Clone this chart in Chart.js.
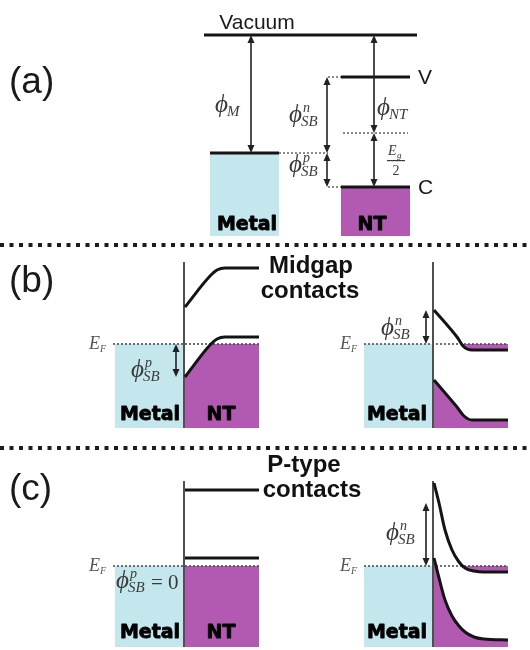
<!DOCTYPE html>
<html>
<head>
<meta charset="utf-8">
<script src="https://cdn.jsdelivr.net/npm/chart.js@4.4.0/dist/chart.umd.min.js"></script>
<style>
  html, body { margin: 0; padding: 0; background: #fff; }
  canvas { display: block; }
</style>
</head>
<body>
<canvas id="bands" width="530" height="650"></canvas>
<script>
// (a) isolated levels, rows counted down from the top
const vacuumLevel = 35;
const metalFermi = 153;
const ntUpperLevel = 77;   // "V"
const ntMidgap = 133;
const ntLowerLevel = 187;  // "C"

// (b), (c): band edges above E_F against distance from the interface
const midgapNtDist = [0, 25, 32, 40, 74];
const midgapNtCB = [37, 68, 74, 76, 76];
const midgapNtVB = [-33, -1, 5, 7, 7];
const midgapMetalDist = [0, 23, 30, 38, 74];
const midgapMetalCB = [34, 7, -3, -6, -6];
const midgapMetalVB = [-36, -63, -72, -76, -76];

const ptypeNtDist = [0, 74];
const ptypeNtCB = [76, 76];
const ptypeNtVB = [8, 8];
const ptypeMetalDist = [0, 5, 11, 18, 25, 31, 40, 50, 74];
const ptypeMetalCB = [83, 63, 36, 16, 4, -2, -5, -6, -6];
const ptypeMetalVB = [8, -12, -34, -50, -60, -66, -71, -73, -74];

// layout of the two lower rows
const fermiB = 344, fermiC = 566;
const bottomB = 428, bottomC = 647;
const topB = 262, topC = 481;
const leftIf = 184, rightIf = 433;
const leftMetalX = 115, rightMetalX = 364;
const bandLen = 74;

const CYAN = '#c3e7ec';
const MAGENTA = '#b25ab2';
const INK = '#141414';
const CLEAR = 'rgba(0,0,0,0)';

function band(ix, dists, energies, ef) {
  return dists.map((d, i) => ({ x: ix + 1 + d, y: ef - energies[i] }));
}
function seg(x1, x2, yv) {
  return [{ x: x1, y: yv }, { x: x2, y: yv }];
}
function stroke(data, color, width, dash, smooth) {
  return {
    data, borderColor: color, borderWidth: width, borderDash: dash || [],
    borderCapStyle: 'butt', fill: false, pointRadius: 0,
    cubicInterpolationMode: smooth ? 'monotone' : 'default', tension: 0
  };
}
function area(data, color, fill) {
  return {
    data, borderWidth: 0, borderColor: CLEAR, backgroundColor: color, fill,
    pointRadius: 0, cubicInterpolationMode: 'monotone', tension: 0
  };
}

const datasets = [];
const DOTS = [2, 2];

// metal and tube regions
datasets.push(area(seg(210, 279, metalFermi), CYAN, { value: 236 }));
datasets.push(area(seg(341, 410, ntLowerLevel), MAGENTA, { value: 236 }));
datasets.push(area(seg(leftMetalX, leftIf, fermiB), CYAN, { value: bottomB }));
datasets.push(area(seg(rightMetalX, rightIf, fermiB), CYAN, { value: bottomB }));
datasets.push(area(seg(leftMetalX, leftIf, fermiC), CYAN, { value: bottomC }));
datasets.push(area(seg(rightMetalX, rightIf, fermiC), CYAN, { value: bottomC }));

// (b) midgap: holes below the valence edge, none above E_F
const vbB = band(leftIf, midgapNtDist, midgapNtVB, fermiB);
datasets.push(area(vbB, MAGENTA, { value: bottomB }));
datasets.push(area(vbB, '#fff', { target: { value: fermiB }, above: '#fff', below: CLEAR }));
const cbBr = band(rightIf, midgapMetalDist, midgapMetalCB, fermiB);
const vbBr = band(rightIf, midgapMetalDist, midgapMetalVB, fermiB);
datasets.push(area(cbBr, MAGENTA, { target: { value: fermiB }, above: CLEAR, below: MAGENTA }));
datasets.push(area(vbBr, MAGENTA, { value: bottomB }));

// (c) p-type
datasets.push(area(seg(leftIf, leftIf + 1 + bandLen, fermiC), MAGENTA, { value: bottomC }));
const cbCr = band(rightIf, ptypeMetalDist, ptypeMetalCB, fermiC);
const vbCr = band(rightIf, ptypeMetalDist, ptypeMetalVB, fermiC);
datasets.push(area(cbCr, MAGENTA, { target: { value: fermiC }, above: CLEAR, below: MAGENTA }));
datasets.push(area(vbCr, MAGENTA, { value: bottomC }));

// dotted guides
datasets.push(stroke(seg(279, 328, metalFermi), '#666', 1.5, DOTS));
datasets.push(stroke(seg(328, 341, ntUpperLevel), '#666', 1.5, DOTS));
datasets.push(stroke(seg(328, 341, ntLowerLevel), '#666', 1.5, DOTS));
datasets.push(stroke(seg(343, 408, ntMidgap), '#666', 1.5, DOTS));
datasets.push(stroke(seg(113, leftIf + 1 + bandLen, fermiB), '#444', 1.5, DOTS));
datasets.push(stroke(seg(rightMetalX, rightIf + 1 + bandLen, fermiB), '#444', 1.5, DOTS));
datasets.push(stroke(seg(113, leftIf + 1 + bandLen, fermiC), '#444', 1.5, DOTS));
datasets.push(stroke(seg(rightMetalX, rightIf + 1 + bandLen, fermiC), '#444', 1.5, DOTS));

// (a) levels
datasets.push(stroke(seg(204, 417, vacuumLevel), INK, 3));
datasets.push(stroke(seg(210, 279, metalFermi), INK, 3));
datasets.push(stroke(seg(341, 410, ntUpperLevel), INK, 3));
datasets.push(stroke(seg(341, 410, ntLowerLevel), INK, 3));

// interfaces
for (const [ix, t, b] of [[leftIf, topB, bottomB], [rightIf, topB, bottomB], [leftIf, topC, bottomC], [rightIf, topC, bottomC]]) {
  datasets.push(stroke([{ x: ix, y: t }, { x: ix, y: b }], '#505050', 2));
}

// band edges
datasets.push(stroke(band(leftIf, midgapNtDist, midgapNtCB, fermiB), INK, 3, null, true));
datasets.push(stroke(vbB, INK, 3, null, true));
datasets.push(stroke(cbBr, INK, 3, null, true));
datasets.push(stroke(vbBr, INK, 3, null, true));
datasets.push(stroke(band(leftIf, ptypeNtDist, ptypeNtCB, fermiC), INK, 3));
datasets.push(stroke(band(leftIf, ptypeNtDist, ptypeNtVB, fermiC), INK, 3));
datasets.push(stroke(cbCr, INK, 3, null, true));
datasets.push(stroke(vbCr, INK, 3, null, true));

// panel separators
datasets.push(stroke(seg(0, 530, 245), '#1c1c1c', 4, [4, 5.5]));
datasets.push(stroke(seg(0, 530, 448), '#1c1c1c', 4, [4, 5.5]));

// later entries paint on top
datasets.forEach((d, i) => { d.order = -i; });

const SERIF = '"Liberation Serif", "DejaVu Serif", serif';
const SANS = '"Liberation Sans", Arial, sans-serif';

function arrow(ctx, px, y1, y2) {
  const head = 8, half = 3.5;
  ctx.strokeStyle = '#222';
  ctx.fillStyle = '#222';
  ctx.lineWidth = 1.6;
  ctx.beginPath();
  ctx.moveTo(px, y1 + head - 1);
  ctx.lineTo(px, y2 - head + 1);
  ctx.stroke();
  ctx.beginPath();
  ctx.moveTo(px, y1); ctx.lineTo(px - half, y1 + head); ctx.lineTo(px + half, y1 + head);
  ctx.closePath(); ctx.fill();
  ctx.beginPath();
  ctx.moveTo(px, y2); ctx.lineTo(px - half, y2 - head); ctx.lineTo(px + half, y2 - head);
  ctx.closePath(); ctx.fill();
}

function phi(ctx, x, base, sub, sup) {
  ctx.fillStyle = '#3a3a3a';
  ctx.textAlign = 'left';
  ctx.textBaseline = 'alphabetic';
  ctx.font = 'italic 25px ' + SERIF;
  ctx.fillText('\u03d5', x, base);
  const w = ctx.measureText('\u03d5').width;
  ctx.font = 'italic 15px ' + SERIF;
  if (sub) ctx.fillText(sub, x + w - 1, base + 4);
  ctx.font = 'italic 14px ' + SERIF;
  if (sup) ctx.fillText(sup, x + w + 1, base - 10);
  return x + w;
}

function fermiLabel(ctx, xr, yv) {
  ctx.fillStyle = '#555';
  ctx.textAlign = 'left';
  ctx.textBaseline = 'alphabetic';
  ctx.font = 'italic 18px ' + SERIF;
  ctx.fillText('E', xr - 17, yv + 5);
  ctx.font = 'italic 10px ' + SERIF;
  ctx.fillText('F', xr - 6, yv + 8);
}

// heavy black caption, thickened with a thin outline
function heavy(ctx, text, cx, base) {
  ctx.fillText(text, cx, base);
  ctx.strokeText(text, cx, base);
}

const annotate = {
  id: 'annotate',
  afterDatasetsDraw(chart) {
    const { ctx, scales: { x, y } } = chart;
    const X = v => x.getPixelForValue(v);
    const Y = v => y.getPixelForValue(v);
    ctx.save();

    // panel tags
    ctx.fillStyle = '#1a1a1a';
    ctx.font = '37px ' + SANS;
    ctx.textAlign = 'left';
    ctx.textBaseline = 'middle';
    ctx.fillText('(a)', 9, 83);
    ctx.fillText('(b)', 9, 282);
    ctx.fillText('(c)', 9, 490);

    // (a) captions
    ctx.font = '21px ' + SANS;
    ctx.textBaseline = 'alphabetic';
    ctx.textAlign = 'center';
    ctx.fillText('Vacuum', 257, 29);
    ctx.textAlign = 'left';
    ctx.textBaseline = 'middle';
    ctx.fillText('V', 418, Y(ntUpperLevel) + 1);
    ctx.fillText('C', 418, Y(ntLowerLevel) + 1);

    // bold region names
    ctx.fillStyle = '#000';
    ctx.strokeStyle = '#000';
    ctx.lineWidth = 0.8;
    ctx.lineJoin = 'round';
    ctx.font = 'bold 19px "DejaVu Sans", sans-serif';
    ctx.textAlign = 'center';
    ctx.textBaseline = 'alphabetic';
    heavy(ctx, 'Metal', 247, 230);
    heavy(ctx, 'NT', 372, 230);
    heavy(ctx, 'Metal', 150, 420);
    heavy(ctx, 'NT', 221, 420);
    heavy(ctx, 'Metal', 397, 420);
    heavy(ctx, 'Metal', 150, 638);
    heavy(ctx, 'NT', 221, 638);
    heavy(ctx, 'Metal', 397, 638);

    ctx.font = 'bold 24px ' + SANS;
    ctx.fillStyle = '#111';
    ctx.fillText('Midgap', 311, 273);
    ctx.fillText('contacts', 310, 298);
    ctx.fillText('P-type', 304, 472);
    ctx.fillText('contacts', 312, 497);

    // (a) arrows and barrier labels
    arrow(ctx, X(251), Y(vacuumLevel), Y(metalFermi));
    arrow(ctx, X(374), Y(vacuumLevel), Y(ntMidgap));
    arrow(ctx, X(374), Y(ntMidgap), Y(ntLowerLevel));
    arrow(ctx, X(327), Y(ntUpperLevel), Y(metalFermi));
    arrow(ctx, X(327), Y(metalFermi), Y(ntLowerLevel));
    phi(ctx, 215, 112, 'M');
    phi(ctx, 289, 122, 'SB', 'n');
    phi(ctx, 377, 115, 'NT');
    phi(ctx, 289, 172, 'SB', 'p');

    ctx.fillStyle = '#3a3a3a';
    ctx.font = 'italic 14px ' + SERIF;
    ctx.textAlign = 'left';
    ctx.fillText('E', 388, 155);
    ctx.font = 'italic 9px ' + SERIF;
    ctx.fillText('g', 397, 158);
    ctx.fillRect(387, 160, 18, 1.2);
    ctx.font = '14px ' + SERIF;
    ctx.textAlign = 'center';
    ctx.fillText('2', 396, 175);

    // (b) and (c) barriers
    arrow(ctx, X(176), Y(fermiB), Y(fermiB - midgapNtVB[0]));
    phi(ctx, 131, 377, 'SB', 'p');
    arrow(ctx, X(426), Y(fermiB - midgapMetalCB[0]), Y(fermiB));
    phi(ctx, 381, 335, 'SB', 'n');
    arrow(ctx, X(426), Y(fermiC - ptypeMetalCB[0]) + 20, Y(fermiC));
    phi(ctx, 386, 540, 'SB', 'n');
    const end = phi(ctx, 116, 588, 'SB', 'p');
    ctx.font = '21px ' + SERIF;
    ctx.fillStyle = '#3a3a3a';
    ctx.textAlign = 'left';
    ctx.fillText('= 0', end + 22, 589);

    fermiLabel(ctx, 106, fermiB);
    fermiLabel(ctx, 357, fermiB);
    fermiLabel(ctx, 106, fermiC);
    fermiLabel(ctx, 357, fermiC);

    ctx.restore();
  }
};

new Chart(document.getElementById('bands'), {
  type: 'line',
  data: { datasets },
  options: {
    responsive: false,
    animation: false,
    layout: { padding: 0 },
    scales: {
      x: { type: 'linear', min: 0, max: 530, display: false },
      y: { type: 'linear', min: 0, max: 650, reverse: true, display: false }
    },
    plugins: { legend: { display: false }, tooltip: { enabled: false } },
    elements: { point: { radius: 0 } }
  },
  plugins: [annotate]
});
</script>
</body>
</html>
